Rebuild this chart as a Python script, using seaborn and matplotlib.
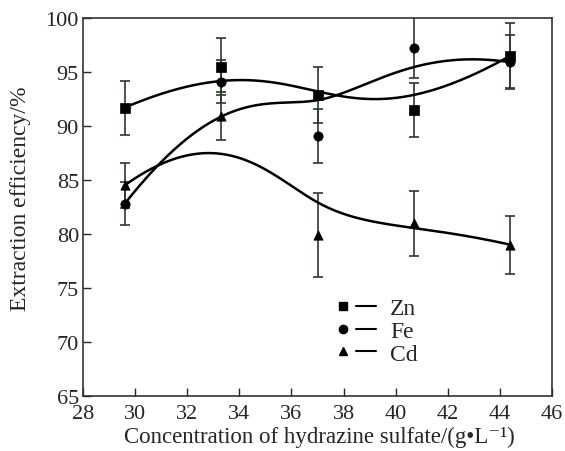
import numpy as np
import matplotlib
matplotlib.use("Agg")
import matplotlib.pyplot as plt
import seaborn as sns
from matplotlib.lines import Line2D
from matplotlib.legend_handler import HandlerTuple

# ---- data ----
conc = [29.6, 33.3, 37.0, 40.7, 44.4]
zn = [91.7, 95.5, 92.9, 91.5, 96.5]
zn_err = [2.5, 2.6, 2.6, 2.5, 3.0]
fe = [82.8, 94.1, 89.1, 97.25, 95.9]
fe_err = [2.0, 2.0, 2.5, 2.8, 2.5]
cd = [84.5, 90.9, 79.9, 81.0, 79.0]
cd_err = [2.1, 2.2, 3.9, 3.0, 2.7]
labels = ["Zn", "Fe", "Cd"]
markers = ["s", "o", "^"]

sns.set_style("ticks")
plt.rcParams['font.family'] = ['Liberation Serif', 'DejaVu Serif']
plt.rcParams['mathtext.fontset'] = 'stix'


def bspline(xc, yc, n=300, k=3):
    xc = np.asarray(xc, float)
    yc = np.asarray(yc, float)
    m = len(xc)
    knots = np.concatenate([[0.0] * k, np.linspace(0, 1, m - k + 1), [1.0] * k])
    t = np.linspace(0, 1, n)

    def N(i, p):
        if p == 0:
            b = ((knots[i] <= t) & (t < knots[i + 1])).astype(float)
            if knots[i + 1] == 1.0 and knots[i] < 1.0:
                b[t == 1.0] = 1.0
            return b
        out = np.zeros_like(t)
        d1 = knots[i + p] - knots[i]
        if d1 > 0:
            out += (t - knots[i]) / d1 * N(i, p - 1)
        d2 = knots[i + p + 1] - knots[i + 1]
        if d2 > 0:
            out += (knots[i + p + 1] - t) / d2 * N(i + 1, p - 1)
        return out

    B = np.array([N(i, k) for i in range(m)])
    return B.T @ xc, B.T @ yc


fig, ax = plt.subplots(figsize=(5.65, 4.52), dpi=100)
fig.subplots_adjust(left=0.147, right=0.977, top=0.958, bottom=0.122)

ecol = "#2b3a2b"
series = [(zn, zn_err), (fe, fe_err), (cd, cd_err)]
handles = []
for (vals, err), lab, mk in zip(series, labels, markers):
    ax.errorbar(conc, vals, yerr=err, fmt="none", ecolor=ecol, elinewidth=1.2,
                capsize=3.7, capthick=1.2, zorder=2)
    sx, sy = bspline(conc, vals)
    sns.lineplot(x=sx, y=sy, sort=False, estimator=None, color="black",
                 linewidth=1.8, ax=ax, zorder=3)
    sns.scatterplot(x=conc, y=vals, marker=mk, s=45, color="black",
                    edgecolor="black", linewidth=0.5, ax=ax, zorder=4)
    hm = Line2D([], [], marker=mk, color="black", linestyle="none", markersize=6)
    hl = Line2D([], [], color="black", linewidth=1.5)
    handles.append((hm, hl))

ax.set_xlim(28, 46)
ax.set_ylim(65, 100)
ax.set_xticks(np.arange(28, 47, 2))
ax.set_yticks(np.arange(65, 101, 5))
ax.tick_params(direction="in", length=6, width=1, labelsize=16)
ax.tick_params(axis="x", pad=6)
ax.tick_params(axis="y", pad=3)
for s in ax.spines.values():
    s.set_linewidth(1.2)
    s.set_color("#333333")

ax.set_xlabel("Concentration of hydrazine sulfate/(g\u2022L\u207b\u00b9)", fontsize=16.5)
ax.set_ylabel("Extraction efficiency/%", fontsize=17)
ax.xaxis.set_label_coords(0.505, -0.08)
ax.yaxis.set_label_coords(-0.112, 0.524)

leg = ax.legend(handles, labels, handler_map={tuple: HandlerTuple(ndivide=2, pad=0.13)},
                loc="upper left", bbox_to_anchor=(0.533, 0.26), frameon=False,
                fontsize=17, handlelength=1.82, handletextpad=0.6, labelspacing=0.05,
                borderaxespad=0, borderpad=0)

fig.savefig("out.png", dpi=100)
